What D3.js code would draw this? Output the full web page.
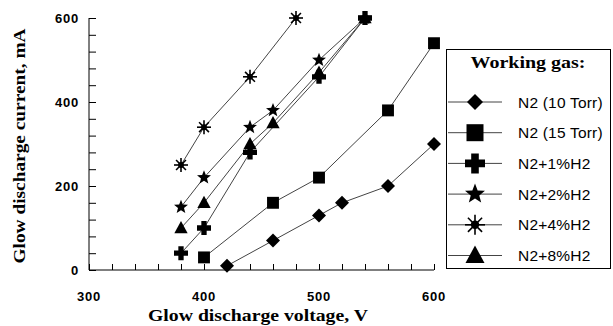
<!DOCTYPE html>
<html>
<head>
<meta charset="utf-8">
<script src="https://d3js.org/d3.v7.min.js"></script>
<style>
  body { margin: 0; background: #fff; }
  svg { display: block; }
</style>
</head>
<body>
<div id="chart"></div>
<script>
// data
var seriesNames = ["N2 (10 Torr)", "N2 (15 Torr)", "N2+1%H2", "N2+2%H2", "N2+4%H2", "N2+8%H2"];
var n2_10 = [[420, 10], [460, 70], [500, 130], [520, 160], [560, 200], [600, 300]];
var n2_15 = [[400, 30], [460, 160], [500, 220], [560, 380], [600, 540]];
var h2_1 = [[380, 40], [400, 100], [440, 280], [500, 460], [540, 600]];
var h2_2 = [[380, 150], [400, 220], [440, 340], [460, 380], [500, 500], [540, 600]];
var h2_4 = [[380, 250], [400, 340], [440, 460], [480, 600]];
var h2_8 = [[380, 100], [400, 160], [440, 300], [460, 350], [500, 470], [540, 600]];
var xTicks = [300, 400, 500, 600];
var yTicks = [0, 200, 400, 600];

var allSeries = [n2_10, n2_15, h2_1, h2_2, h2_4, h2_8];
var shapes = ["diamond", "square", "cross", "star", "asterisk", "triangle"];

var width = 613, height = 326;
var svg = d3.select("#chart").append("svg").attr("width", width).attr("height", height);

var x = d3.scaleLinear().domain([300, 600]).range([89, 434]);
var y = d3.scaleLinear().domain([0, 600]).range([270, 18]);

// marker paths, centred on 0,0
function markerPath(shape, r) {
    var p = d3.path();
    if (shape == "diamond") {
        p.moveTo(0, -r); p.lineTo(r, 0); p.lineTo(0, r); p.lineTo(-r, 0); p.closePath();
    } else if (shape == "square") {
        p.rect(-r * 0.85, -r * 0.85, r * 1.7, r * 1.7);
    } else if (shape == "cross") {
        var a = r, t = r * 0.38;
        p.moveTo(-t, -a); p.lineTo(t, -a); p.lineTo(t, -t); p.lineTo(a, -t); p.lineTo(a, t);
        p.lineTo(t, t); p.lineTo(t, a); p.lineTo(-t, a); p.lineTo(-t, t); p.lineTo(-a, t);
        p.lineTo(-a, -t); p.lineTo(-t, -t); p.closePath();
    } else if (shape == "star") {
        for (var i = 0; i < 10; i++) {
            var ang = -Math.PI / 2 + i * Math.PI / 5;
            var rr = i % 2 == 0 ? r * 1.05 : r * 0.45;
            if (i == 0) p.moveTo(rr * Math.cos(ang), rr * Math.sin(ang));
            else p.lineTo(rr * Math.cos(ang), rr * Math.sin(ang));
        }
        p.closePath();
    } else if (shape == "triangle") {
        p.moveTo(0, -r); p.lineTo(r * 0.95, r * 0.75); p.lineTo(-r * 0.95, r * 0.75); p.closePath();
    }
    return p.toString();
}

function drawMarker(g, shape, r) {
    if (shape == "asterisk") {
        for (var i = 0; i < 4; i++) {
            var ang = i * Math.PI / 4;
            g.append("line")
                .attr("x1", -r * Math.cos(ang)).attr("y1", -r * Math.sin(ang))
                .attr("x2", r * Math.cos(ang)).attr("y2", r * Math.sin(ang))
                .attr("stroke", "#000").attr("stroke-width", 1.6);
        }
        g.append("circle").attr("r", r * 0.42).attr("fill", "#000");
    } else {
        g.append("path").attr("d", markerPath(shape, r)).attr("fill", "#000");
    }
}

// axes
var yAxis = d3.axisLeft(y).tickValues(d3.range(0, 601, 40)).tickSize(-7).tickFormat("");
svg.append("g").attr("transform", "translate(89,0)").call(yAxis)
    .call(function (g) { g.selectAll("line,path").attr("stroke", "#000"); });
var xAxis = d3.axisBottom(x).tickValues(d3.range(300, 601, 20)).tickSize(-6).tickFormat("");
svg.append("g").attr("transform", "translate(0,270)").call(xAxis)
    .call(function (g) { g.selectAll("line,path").attr("stroke", "#000"); });
svg.selectAll(".domain").attr("d", null);
svg.append("line").attr("x1", 89).attr("x2", 89).attr("y1", y(600)).attr("y2", 270).attr("stroke", "#000");
svg.append("line").attr("x1", 89).attr("x2", 434).attr("y1", 270).attr("y2", 270).attr("stroke", "#000");

// tick labels
svg.selectAll(".ylab").data(yTicks).enter().append("text")
    .attr("x", 79).attr("y", function (d) { return y(d) + 4.5; })
    .attr("text-anchor", "end")
    .style("font", "bold 13px 'Liberation Sans', Arial, sans-serif")
    .style("letter-spacing", "0.8px")
    .text(function (d) { return d; });
svg.selectAll(".xlab").data(xTicks).enter().append("text")
    .attr("x", function (d) { return x(d); }).attr("y", 301)
    .attr("text-anchor", "middle")
    .style("font", "bold 13px 'Liberation Sans', Arial, sans-serif")
    .style("letter-spacing", "0.8px")
    .text(function (d) { return d; });

// axis titles
svg.append("text").attr("transform", "translate(25,146) rotate(-90)")
    .attr("text-anchor", "middle")
    .attr("textLength", 235).attr("lengthAdjust", "spacingAndGlyphs")
    .style("font", "bold 17px 'Liberation Serif', 'Times New Roman', serif")
    .text("Glow discharge current, mA");
svg.append("text").attr("x", 258).attr("y", 321)
    .attr("text-anchor", "middle")
    .attr("textLength", 220).attr("lengthAdjust", "spacingAndGlyphs")
    .style("font", "bold 17px 'Liberation Serif', 'Times New Roman', serif")
    .text("Glow discharge voltage, V");

// series
var line = d3.line().x(function (d) { return x(d[0]); }).y(function (d) { return y(d[1]); });
allSeries.forEach(function (s, k) {
    svg.append("path").attr("d", line(s)).attr("fill", "none")
        .attr("stroke", "#444").attr("stroke-width", 1);
});
allSeries.forEach(function (s, k) {
    s.forEach(function (d) {
        var g = svg.append("g").attr("transform", "translate(" + x(d[0]) + "," + y(d[1]) + ")");
        drawMarker(g, shapes[k], 7);
    });
});

// legend
var lg = svg.append("g");
lg.append("rect").attr("x", 446.5).attr("y", 49.5).attr("width", 164).attr("height", 219)
    .attr("fill", "#fff").attr("stroke", "#000").attr("stroke-width", 1);
lg.append("text").attr("x", 528).attr("y", 68).attr("text-anchor", "middle")
    .attr("textLength", 115).attr("lengthAdjust", "spacingAndGlyphs")
    .style("font", "bold 17px 'Liberation Serif', 'Times New Roman', serif")
    .text("Working gas:");
seriesNames.forEach(function (name, k) {
    var yy = 102 + k * 30.7;
    lg.append("line").attr("x1", 448).attr("x2", 502).attr("y1", yy).attr("y2", yy)
        .attr("stroke", "#444").attr("stroke-width", 1);
    var g = lg.append("g").attr("transform", "translate(475," + yy + ")");
    drawMarker(g, shapes[k], k == 0 ? 8 : 10);
    lg.append("text").attr("x", 518).attr("y", yy + 5.5)
        .style("font", "15.5px 'Liberation Sans', Arial, sans-serif")
        .style("letter-spacing", "0.2px")
        .text(name);
});
</script>
</body>
</html>
